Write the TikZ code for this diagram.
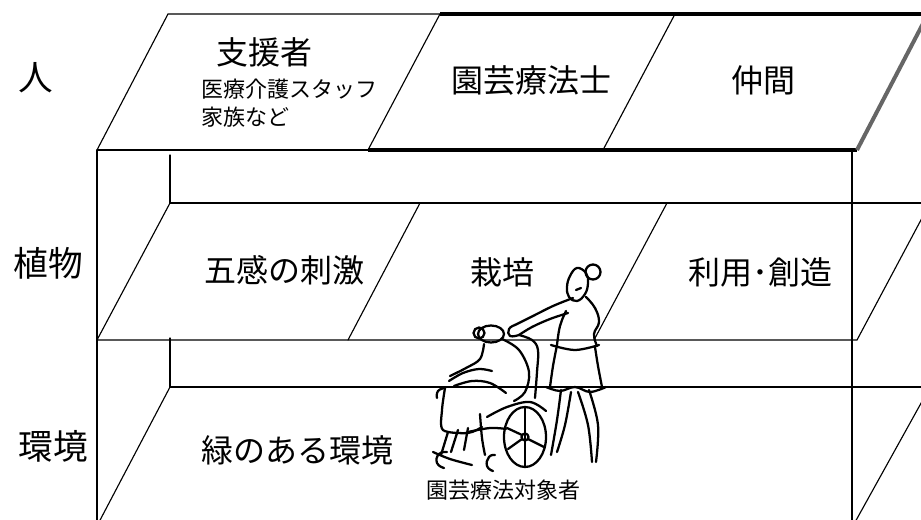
\documentclass[tikz,border=0pt]{standalone}
\usepackage{fontspec}
\newfontfamily\jp{Noto Sans CJK JP}
\begin{document}
\begin{tikzpicture}[x=0.75pt,y=-0.75pt,
  frame/.style={line width=0.85pt,line cap=round},
  heavy/.style={line width=2.4pt},
  rim/.style={line width=3pt,draw=black!60},
  fig/.style={line width=1.7pt,line cap=round,line join=round},
  lbl/.style={inner sep=0pt,font=\jp\fontsize{24}{28}\selectfont},
  side/.style={inner sep=0pt,font=\jp\fontsize{26}{30}\selectfont},
  small/.style={inner sep=0pt,font=\jp\fontsize{16.5}{20}\selectfont}]
\useasboundingbox (0,0) rectangle (921,520);
\begin{scope}
\clip (0,0) rectangle (921,520);
% ---- upper tier: people ----
\draw[frame] (97,150) -- (168,14) -- (440,14);
\draw[frame] (97,150) -- (368,150);
\draw[heavy] (440,14) -- (928,14);
\draw[heavy] (368,150) -- (857,150);
\draw[rim] (857,150) -- (928,14);
\draw[frame] (368,150) -- (440,14);
\draw[frame] (603,150) -- (675,14);
% ---- box sides ----
\draw[frame] (97,150) -- (97,524);
\draw[frame] (852,150) -- (852,524);
% ---- middle tier: plants ----
\draw[frame] (170,155) -- (170,203) -- (930,203);
\draw[frame] (170,203) -- (97,340) -- (857,340) -- (930,203);
\draw[frame] (348,340) -- (420,203);
\draw[frame] (594,340) -- (667,203);
% ---- lower tier: environment ----
\draw[frame] (170,338) -- (170,387) -- (930,387);
\draw[frame] (170,387) -- (98,524);
\draw[frame] (930,387) -- (854,524);
\end{scope}
% ---- row labels ----
\node[side] (rowA) at (36,78) {人};
\node[side] (rowB) at (48,263) {植物};
\node[side] (rowC) at (53,446) {環境};
% ---- cell texts ----
\node[lbl] (supp) at (264,52) {支援者};
\node[small,anchor=west] (staff) at (201,89) {医療介護スタッフ};
\node[small,anchor=west] (fam) at (201,117) {家族など};
\node[lbl] (hort) at (531,81) {園芸療法士};
\node[lbl] (peer) at (763,80) {仲間};
\node[lbl] (sense) at (284,270) {五感の刺激};
\node[lbl] (grow) at (502,272) {栽培};
\node[lbl] (use) at (760,272) {利用･創造};
\node[lbl] (green) at (297,450) {緑のある環境};
\node[small] (client) at (503,490) {園芸療法対象者};
% ---- caregiver pushing a wheelchair ----
% caregiver: hair bun and head
\draw[fig] (593,272) circle (7.5);
\draw[fig] plot[smooth cycle,tension=0.7] coordinates {(577,268) (570,276) (567,287) (569,297) (577,301) (585,294) (588,283) (586,273)};
\draw[fig] (576,290) -- (581,288);
% caregiver: back, front and arm
\draw[fig] plot[smooth,tension=0.7] coordinates {(586,297) (595,308) (599,322) (594,334) (597,346)};
\draw[fig] plot[smooth,tension=0.7] coordinates {(566,311) (560,326) (557,345)};
\draw[fig] plot[smooth,tension=0.6] coordinates {(573,298) (553,306) (533,316) (515,325)};
\draw[fig] plot[smooth,tension=0.6] coordinates {(568,313) (550,319) (532,327) (519,335)};
\draw[fig] plot[smooth,tension=0.8] coordinates {(515,325) (509,329) (510,336) (519,335)};
% caregiver: waist, skirt and legs
\draw[fig] plot[smooth,tension=0.6] coordinates {(551,345) (575,350) (599,345)};
\draw[fig] plot[smooth,tension=0.6] coordinates {(557,345) (553,366) (550,387)};
\draw[fig] plot[smooth,tension=0.6] coordinates {(595,347) (598,366) (602,387)};
\draw[fig] plot[smooth,tension=0.6] coordinates {(546,387) (560,391) (575,387) (590,392) (606,387)};
\draw[fig] plot[smooth,tension=0.6] coordinates {(561,390) (557,420) (551,455)};
\draw[fig] plot[smooth,tension=0.6] coordinates {(571,392) (565,425) (557,452)};
\draw[fig] plot[smooth,tension=0.6] coordinates {(578,392) (588,425) (592,462)};
\draw[fig] plot[smooth,tension=0.6] coordinates {(589,390) (598,425) (596,462)};
% wheelchair: push handle post, armrest, frame
\draw[fig] plot[smooth,tension=0.6] coordinates {(519,335) (532,340) (538,350) (537,372) (535,398)};
\draw[fig] plot[smooth,tension=0.6] coordinates {(487,417) (507,407) (530,402) (546,411)};
\draw[fig] plot[smooth,tension=0.6] coordinates {(480,414) (482,438) (485,455)};
\draw[fig] plot[smooth,tension=0.6] coordinates {(468,432) (490,428) (506,429)};
% wheelchair: big wheel with spokes
\draw[fig] (525,437) ellipse (21 and 30);
\draw[fig] (525,437) circle (3.5);
\draw[fig] (525,408) -- (525,466);
\draw[fig] (522,439) -- (508,449);
\draw[fig] (528,439) -- (544,447);
\draw[fig] (522,435) -- (507,428);
% wheelchair: footrest and front casters
\draw[fig] plot[smooth,tension=0.6] coordinates {(433,452) (450,459) (472,465)};
\draw[fig] plot[smooth,tension=0.9] coordinates {(447,452) (439,454) (437,463) (444,468)};
\draw[fig] plot[smooth,tension=0.9] coordinates {(495,455) (489,457) (487,466) (493,471)};
% patient: head with curled hair
\draw[fig] (491,334) ellipse (13 and 8.5);
\draw[fig] (479,333) circle (5.5);
% patient: hunched back and shoulder
\draw[fig] plot[smooth,tension=0.6] coordinates {(502,339) (519,350) (529,372) (525,392) (514,401)};
\draw[fig] plot[smooth,tension=0.6] coordinates {(484,344) (480,359) (466,368) (450,376)};
% patient: arm over the lap
\draw[fig] plot[smooth,tension=0.6] coordinates {(449,381) (463,373) (479,369) (492,371)};
\draw[fig] plot[smooth,tension=0.6] coordinates {(454,386) (472,381) (490,383) (506,393)};
\draw[fig] plot[smooth,tension=0.9] coordinates {(445,388) (438,391) (437,398)};
% patient: blanket and legs
\draw[fig] plot[smooth,tension=0.5] coordinates {(445,388) (442,410) (443,430) (468,433) (482,427)};
\draw[fig] (448,432) -- (441,455);
\draw[fig] (458,430) -- (451,452);
\draw[fig] (468,428) -- (464,450);
\end{tikzpicture}
\end{document}
